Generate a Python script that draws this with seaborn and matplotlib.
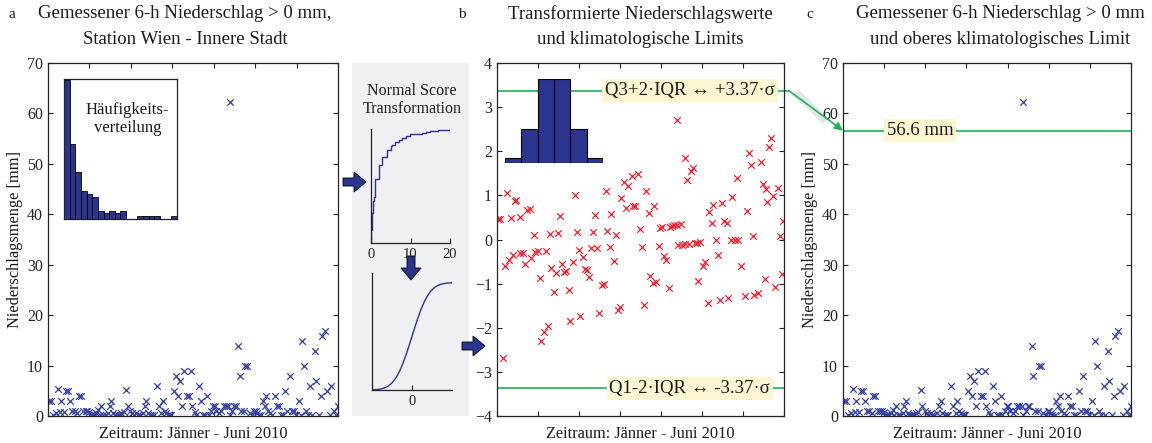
import math
import numpy as np
import matplotlib
matplotlib.use("Agg")
import matplotlib.pyplot as plt
import seaborn as sns
from matplotlib.patches import Rectangle, FancyArrow, ConnectionPatch

# --- data --------------------------------------------------------------
# panel a / c: measured 6-h precipitation (day of period, mm)
day_a = [0.6, 2.0, 3.0, 5.0, 6.0, 7.0, 8.0, 9.5, 10.7, 12.1,
         13.1, 14.7, 16.1, 17.5, 18.5, 19.7, 21.1, 22.7, 23.7, 24.7,
         26.1, 27.1, 28.2, 29.2, 30.2, 31.2, 32.2, 33.2, 34.8, 36.2,
         37.2, 38.2, 39.2, 40.2, 41.2, 42.2, 43.2, 44.2, 45.6, 47.3,
         48.3, 49.7, 50.9, 51.9, 53.3, 54.3, 55.3, 57.3, 58.3, 59.3,
         60.3, 61.7, 62.9, 63.9, 65.8, 67.0, 68.4, 69.4, 70.4, 71.4,
         72.4, 73.4, 74.4, 75.8, 77.0, 78.4, 79.4, 81.0, 81.8, 83.9,
         84.9, 86.1, 87.1, 88.5, 89.5, 90.9, 92.1, 93.5, 94.5, 95.9,
         96.9, 98.5, 99.5, 100.5, 101.6, 103.2, 104.6, 106.0, 107.2, 108.6,
         109.6, 109.6, 111.2, 112.2, 113.2, 114.6, 115.7, 116.7, 118.3, 119.1,
         120.1, 121.7, 123.1, 124.3, 125.3, 126.3, 127.3, 128.7, 129.7, 130.7,
         131.7, 132.7, 134.1, 135.3, 136.7, 138.2, 139.4, 140.4, 141.8, 143.2,
         144.4, 145.8, 147.2, 148.4, 149.4, 151.2, 152.4, 153.4, 154.4, 155.5,
         156.9, 158.3, 159.5, 160.9, 161.9, 163.3, 164.5, 165.5, 166.9, 168.3,
         169.9, 170.9, 172.5, 174.0, 175.0]
mm_a = [2.9, 2.9, 0.2, 0.5, 5.4, 0.8, 2.9, 0.8, 5.0, 5.0,
        2.9, 1.0, 1.0, 0.5, 4.0, 4.0, 1.0, 1.0, 1.0, 0.8,
        0.1, 0.3, 0.2, 0.5, 1.1, 0.1, 2.0, 0.2, 0.1, 0.5,
        2.0, 2.9, 0.5, 0.2, 0.1, 0.2, 0.1, 0.5, 0.8, 5.2,
        2.0, 1.0, 0.5, 0.2, 0.5, 0.1, 0.2, 0.5, 2.0, 2.9,
        0.5, 0.2, 0.1, 0.2, 6.0, 2.0, 0.5, 2.9, 1.0, 0.5,
        0.1, 0.2, 0.1, 5.0, 7.9, 4.0, 7.0, 2.0, 8.9, 4.0,
        4.0, 8.9, 2.0, 0.8, 0.2, 6.0, 2.9, 0.1, 0.2, 4.0,
        0.2, 1.0, 2.0, 2.0, 1.0, 0.5, 1.0, 2.0, 2.0, 2.0,
        0.2, 62.2, 1.0, 2.0, 2.0, 13.9, 7.9, 1.0, 1.0, 9.9,
        9.9, 0.5, 0.1, 1.0, 1.0, 0.5, 0.2, 0.1, 2.9, 2.0,
        4.0, 1.0, 0.5, 0.2, 4.0, 2.0, 2.0, 0.1, 0.2, 5.0,
        1.0, 7.9, 1.0, 1.0, 0.2, 2.9, 0.1, 14.9, 9.9, 1.0,
        0.2, 6.0, 0.1, 12.9, 7.0, 0.2, 4.0, 15.9, 16.9, 5.0,
        0.2, 6.0, 1.0, 0.1, 2.0]

# panel b: normal-score transformed values
day_b = [0.4, 2.0, 6.1, 8.7, 10.8, 11.8, 13.8, 18.3, 19.9, 22.3,
         32.5, 37.1, 38.6, 47.3, 48.7, 58.5, 59.9, 66.2, 67.0, 69.6,
         72.5, 75.9, 77.5, 78.6, 79.8, 82.2, 83.2, 84.4, 86.1, 87.3,
         90.9, 92.4, 95.6, 99.5, 100.7, 105.6, 106.8, 108.0, 109.6, 109.6,
         112.3, 114.7, 115.7, 118.1, 119.8, 129.5, 131.1, 132.0, 137.4, 138.6,
         140.1, 143.5, 146.2, 152.3, 153.5, 154.7, 155.9, 161.0, 162.4, 164.0,
         164.8, 166.1, 167.1, 168.5, 171.1, 172.6, 174.6,
         3.7, 4.7, 7.1, 9.7, 14.2, 15.8, 17.3, 20.9, 23.3, 24.8,
         26.0, 27.0, 28.4, 29.8, 31.1, 33.1, 34.9, 36.1, 39.6, 40.6,
         42.2, 43.6, 44.7, 46.1, 49.7, 50.8, 52.4, 53.8, 54.8, 56.2,
         57.2, 60.9, 62.3, 63.9, 65.0, 68.6, 71.1, 73.5, 74.7, 88.7,
         89.7, 93.4, 95.0, 97.0, 98.5, 102.1, 103.1, 104.7, 110.6, 112.7,
         114.7, 117.3, 120.8, 122.2, 123.8, 122.4, 125.9, 126.9, 128.5, 133.6,
         134.6, 136.0, 141.1, 142.5, 145.1, 147.2, 148.8, 151.2, 156.9, 159.4,
         163.4, 169.5, 173.6]
z_b = [0.47, 0.47, 1.05, 0.49, 0.88, 0.90, 0.50, 0.67, 0.69, 0.10,
       0.13, 0.14, 0.53, 1.01, 0.17, 0.18, 0.56, 1.11, 0.20, 0.57,
       0.11, 0.94, 1.30, 0.71, 1.22, 1.43, 0.75, 0.75, 1.49, 0.24,
       1.09, 0.60, 0.77, 0.26, 0.29, 0.29, 0.31, 0.32, 2.70, 0.32,
       0.34, 1.84, 1.35, 1.55, 1.61, 0.62, 0.37, 0.79, 0.82, 0.41,
       0.38, 0.96, 1.39, 0.64, 1.96, 1.68, 0.07, 1.75, 1.26, 1.15,
       0.85, 2.09, 2.30, 0.98, 1.17, 0.08, 0.43,
       -2.69, -0.59, -0.46, -0.35, -0.31, -0.31, -0.56, -0.42, -0.29, -0.27,
       -0.88, -2.29, -2.10, -0.26, -1.96, -0.65, -1.18, -0.76, -0.55, -0.74,
       -0.72, -1.14, -1.84, -0.51, -0.23, -1.74, -0.40, -0.67, -0.69, -0.84,
       -0.20, -0.20, -1.67, -1.03, -1.00, -0.17, -0.48, -1.59, -1.54, -0.16,
       -1.48, -0.82, -0.99, -0.97, -0.14, -0.38, -0.46, -1.10, -0.12, -0.12,
       -0.10, -0.10, -0.07, -0.07, -0.05, -0.93, -0.61, -0.50, -1.43, -0.02,
       -0.36, -1.38, -1.33, -0.02, -0.01, 0.00, -0.61, -1.29, -1.25, -1.22,
       -0.90, -1.07, -0.79]

# inset histograms
hist_counts = [50, 27, 17, 10, 9, 8, 3, 2, 3, 2, 3, 0, 0, 1, 1, 1, 1, 0, 0, 1]
normal_pct = [2.1, 13.6, 34.1, 34.1, 13.6, 2.1]

upper_z, lower_z = 3.37, -3.37
limit_mm = 56.6

NAVY = "#2b3590"
BLUE = "#3340a0"
RED = "#f01e2c"
GREEN = "#1fb356"
LABEL_BG = "#fcf6d2"
TXT = "#1a1a1a"

sns.set_style("ticks")
plt.rcParams["font.family"] = ["Liberation Serif", "DejaVu Serif"]
plt.rcParams.update({
    "xtick.direction": "in", "ytick.direction": "in",
    "xtick.top": True, "ytick.right": True,
    "xtick.major.size": 3.5, "ytick.major.size": 3.5,
    "xtick.major.width": 0.8, "ytick.major.width": 0.8,
    "axes.linewidth": 0.9, "axes.edgecolor": "#222222",
    "xtick.color": "#222222", "ytick.color": "#222222",
    "xtick.labelsize": 11.5, "ytick.labelsize": 11.5,
    "axes.labelsize": 11.8, "text.color": TXT, "axes.labelcolor": TXT,
})

W, H = 1152, 443
fig = plt.figure(figsize=(W / 100, H / 100), dpi=100)


def box(l, t, r, b):
    return [l / W, 1 - b / H, (r - l) / W, (b - t) / H]


# overlay for the gray transformation panel and the block arrows
ov = fig.add_axes([0, 0, 1, 1], zorder=-5)
ov.set_xlim(0, W)
ov.set_ylim(H, 0)
ov.axis("off")
ov.add_patch(Rectangle((352, 63), 117, 353, fc="#eff0f2", ec="none"))
arrow_kw = dict(width=8, head_width=20, head_length=12, length_includes_head=True,
                fc=NAVY, ec="black", lw=0.6)
ov.add_patch(FancyArrow(343, 182, 23, 0, **arrow_kw))
ov.add_patch(FancyArrow(411, 256, 0, 24, **arrow_kw))
ov.add_patch(FancyArrow(462, 346, 23, 0, **arrow_kw))
ov.plot([795, 826], [92, 121], color="#e4e6e9", lw=6, solid_capstyle="butt")


def main_panel(rect):
    ax = fig.add_axes(rect)
    ax.set_facecolor("none")
    ax.set_xlim(0, 175)
    ax.set_xticks(np.arange(0, 176, 25))
    ax.set_xticklabels([])
    for s in ax.spines.values():
        s.set_visible(True)
    ax.set_xlabel("Zeitraum: Jänner - Juni 2010", labelpad=4)
    return ax


# ---- panel a ----
ax_a = main_panel(box(48, 63, 338, 416))
sns.scatterplot(x=day_a, y=mm_a, ax=ax_a, marker="x", color=BLUE, s=22, linewidth=0.9)
ax_a.set_ylim(0, 70)
ax_a.set_yticks(range(0, 71, 10))
ax_a.set_ylabel("Niederschlagsmenge [mm]", labelpad=3)

ax_h = fig.add_axes(box(64, 79, 177, 219))
ax_h.bar(np.arange(len(hist_counts)), hist_counts, width=1, align="edge",
         color=NAVY, edgecolor="black", linewidth=0.6)
ax_h.set_xlim(0, len(hist_counts))
ax_h.set_ylim(0, 50.3)
ax_h.set_xticks([])
ax_h.set_yticks([])
ax_h.set_facecolor("white")
ax_h.text(0.56, 0.715, "Häufigkeits-\nverteilung", transform=ax_h.transAxes,
          ha="center", va="center", fontsize=12, linespacing=1.1)

# ---- transformation sketches ----
ax_e = fig.add_axes(box(371, 129, 450, 243))
sns.ecdfplot(x=mm_a, ax=ax_e, color=NAVY, linewidth=1)
ax_e.set_xlim(0, 20)
ax_e.set_ylim(0, 1.0)
ax_e.set_xticks([0, 10, 20])
ax_e.set_yticks([])
ax_e.set_xlabel("")
ax_e.set_ylabel("")
ax_e.set_facecolor("none")
ax_e.tick_params(top=False, right=False, labelsize=10.5)
sns.despine(ax=ax_e)

z_grid = np.linspace(-3, 3, 200)
cdf = 0.5 * (1 + np.array([math.erf(v / math.sqrt(2)) for v in z_grid]))
ax_n = fig.add_axes(box(372, 273, 452, 390))
sns.lineplot(x=z_grid, y=cdf, ax=ax_n, color=NAVY, linewidth=1)
ax_n.set_xlim(-3, 3)
ax_n.set_ylim(0, 1.09)
ax_n.set_xticks([0])
ax_n.set_yticks([])
ax_n.set_facecolor("none")
ax_n.tick_params(top=False, right=False, labelsize=10.5)
sns.despine(ax=ax_n)

fig.text(412 / W, 1 - 100 / H, "Normal Score\nTransformation", ha="center", va="center",
         fontsize=11.5, linespacing=1.15)

# ---- panel b ----
ax_b = main_panel(box(497, 63, 784, 416))
sns.scatterplot(x=day_b, y=z_b, ax=ax_b, marker="x", color=RED, s=22, linewidth=0.9)
ax_b.set_ylim(-4, 4)
ax_b.set_yticks(range(-4, 5))
ax_b.axhline(upper_z, color=GREEN, lw=1.2)
ax_b.axhline(lower_z, color=GREEN, lw=1.2)
ax_b.plot([175, 178], [upper_z, upper_z], color=GREEN, lw=1.2, clip_on=False)
lbl = dict(ha="center", va="center", fontsize=13.5, transform=ax_b.get_yaxis_transform(),
           bbox=dict(boxstyle="square,pad=0.15", fc=LABEL_BG, ec="none"))
ax_b.text(0.672, upper_z, "Q3+2·IQR ↔ +3.37·σ", **lbl)
ax_b.text(0.672, lower_z, "Q1-2·IQR ↔ -3.37·σ", **lbl)

ax_g = fig.add_axes(box(505, 79, 603, 163))
ax_g.bar(np.arange(-3, 3), normal_pct, width=1, align="edge",
         color=NAVY, edgecolor="black", linewidth=0.8)
ax_g.set_xlim(-3, 3)
ax_g.set_ylim(0, 34.1)
ax_g.axis("off")

# ---- panel c ----
ax_c = main_panel(box(843, 63, 1131, 416))
sns.scatterplot(x=day_a, y=mm_a, ax=ax_c, marker="x", color=BLUE, s=22, linewidth=0.9)
ax_c.set_ylim(0, 70)
ax_c.set_yticks(range(0, 71, 10))
ax_c.set_ylabel("Niederschlagsmenge [mm]", labelpad=3)
ax_c.axhline(limit_mm, color=GREEN, lw=1.2)
ax_c.text(0.267, limit_mm, "56.6 mm", ha="center", va="center", fontsize=13.5,
          transform=ax_c.get_yaxis_transform(),
          bbox=dict(boxstyle="square,pad=0.15", fc=LABEL_BG, ec="none"))

con = ConnectionPatch(xyA=(178, upper_z), coordsA=ax_b.transData,
                      xyB=(0, limit_mm), coordsB=ax_c.transData,
                      arrowstyle="-|>", color=GREEN, lw=1.2, mutation_scale=12)
fig.add_artist(con)

# ---- titles ----
tkw = dict(ha="center", va="center", fontsize=13.5)
fig.text(185 / W, 1 - 14 / H, "Gemessener 6-h Niederschlag > 0 mm,", **tkw)
fig.text(185 / W, 1 - 40 / H, "Station Wien - Innere Stadt", **tkw)
fig.text(640 / W, 1 - 14 / H, "Transformierte Niederschlagswerte", **tkw)
fig.text(640 / W, 1 - 40 / H, "und klimatologische Limits", **tkw)
fig.text(1000 / W, 1 - 14 / H, "Gemessener 6-h Niederschlag > 0 mm", **tkw)
fig.text(1000 / W, 1 - 40 / H, "und oberes klimatologisches Limit", **tkw)
for x, letter in [(12, "a"), (462, "b"), (810, "c")]:
    fig.text(x / W, 1 - 14 / H, letter, ha="center", va="center", fontsize=11)

fig.savefig("out.png", dpi=100, facecolor="white")
